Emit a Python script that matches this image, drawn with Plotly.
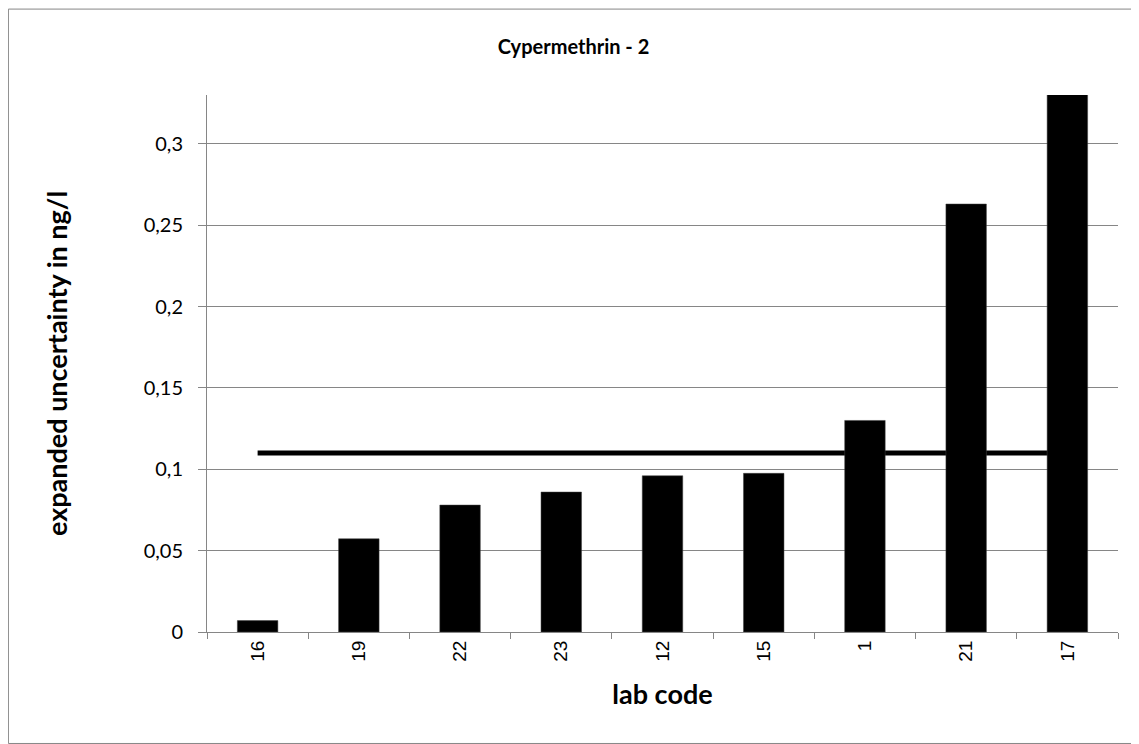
import plotly.graph_objects as go

lab_codes = ["16", "19", "22", "23", "12", "15", "1", "21", "17"]
uncertainty = [0.007, 0.0573, 0.078, 0.086, 0.096, 0.0975, 0.13, 0.263, 0.34]
reference_level = 0.11
y_ticks = [0, 0.05, 0.1, 0.15, 0.2, 0.25, 0.3]
y_tick_text = ["0", "0,05", "0,1", "0,15", "0,2", "0,25", "0,3"]

grey = "#868686"
calibri_like = "Lato, Open Sans, sans-serif"

fig = go.Figure()
fig.add_trace(go.Bar(
    x=lab_codes, y=uncertainty,
    marker=dict(color="black", line=dict(color="#404040", width=0.5)),
    width=0.4, showlegend=False,
))

# horizontal reference line (first to last lab, by category index), drawn between grid and bars
fig.add_shape(type="line", xref="x", yref="y",
              x0=0, x1=len(lab_codes) - 1,
              y0=reference_level, y1=reference_level,
              line=dict(color="black", width=5), layer="between")

# outer chart border
fig.add_shape(type="rect", xref="paper", yref="paper",
              x0=-0.2180, x1=1.0220, y0=-0.2076, y1=1.1600,
              line=dict(color=grey, width=1), layer="below")

fig.update_layout(
    width=1131, height=736,
    margin=dict(l=199, r=21, t=87, b=112),
    paper_bgcolor="white", plot_bgcolor="white",
    separators=",.",
    title=dict(text="Cypermethrin - 2", x=0.5, xref="container", xanchor="center",
               y=0.947, yref="container", yanchor="middle",
               font=dict(family=calibri_like, size=20, color="black", weight="bold")),
    xaxis=dict(
        type="category",
        range=[-0.5, len(lab_codes) - 0.5],
        tickangle=-90,
        tickson="boundaries",
        ticks="outside", ticklen=6, tickcolor=grey,
        showline=True, linecolor=grey, linewidth=1,
        showgrid=False,
        tickfont=dict(family="Liberation Sans, Arial, sans-serif", size=19, color="black"),
        title=dict(text="lab code", standoff=24,
                   font=dict(family=calibri_like, size=27, color="black", weight="bold")),
    ),
    yaxis=dict(
        range=[0, 0.33],
        tickvals=y_ticks, ticktext=y_tick_text,
        ticks="outside", ticklen=8, tickcolor=grey,
        showline=True, linecolor=grey, linewidth=1,
        showgrid=True, gridcolor=grey, gridwidth=1,
        zeroline=False,
        ticklabelstandoff=11,
        tickfont=dict(family=calibri_like, size=20, color="black"),
        title=dict(text="expanded uncertainty in ng/l", standoff=68,
                   font=dict(family=calibri_like, size=27, color="black", weight="bold")),
    ),
)

fig.write_html("out.html")
